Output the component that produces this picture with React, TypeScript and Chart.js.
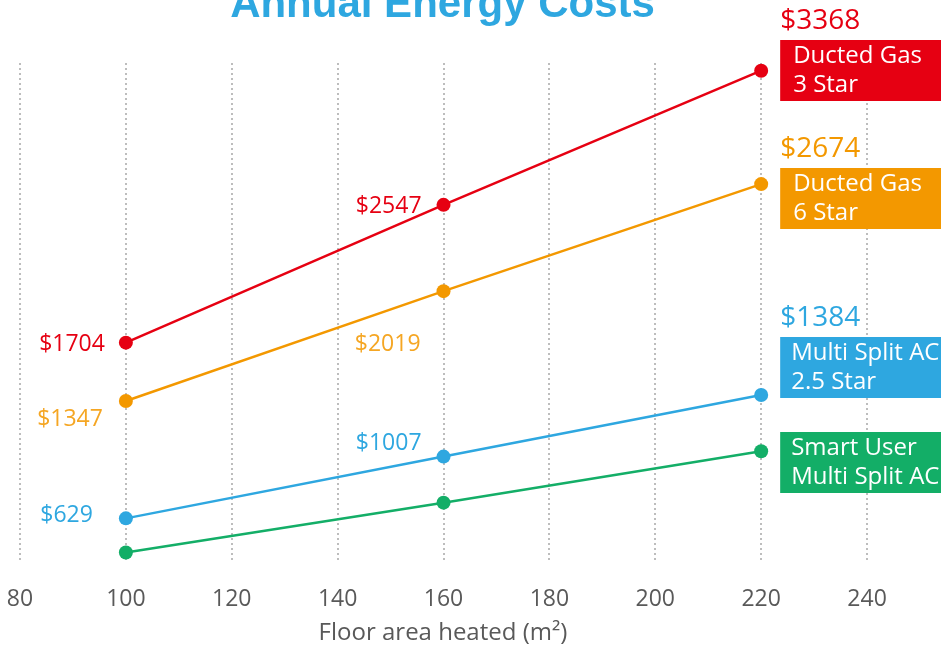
import React, { useEffect, useRef } from "react";
import { Chart, registerables } from "chart.js";

Chart.register(...registerables);

// ---- data ----
const floorAreas = [100, 160, 220];
const gas3Star = [1704, 2547, 3368];
const gas6Star = [1347, 2019, 2674];
const multiSplit25 = [629, 1007, 1384];
const smartUserMultiSplit = [420, 725, 1040];

const seriesLabels = [
  ["Ducted Gas", "3 Star"],
  ["Ducted Gas", "6 Star"],
  ["Multi Split AC", "2.5 Star"],
  ["Smart User", "Multi Split AC"],
];
const seriesValues = [gas3Star, gas6Star, multiSplit25, smartUserMultiSplit];
const lineColors = ["#E60012", "#F39800", "#2EA7E0", "#13AE67"];
const labelColors = ["#E60012", "#F5A623", "#2EA7E0", "#13AE67"];
const endLabelColors = ["#E60012", "#F39800", "#2EA7E0", "#13AE67"];
const showPointLabels = [true, true, true, false];

const xMin = 80;
const xMax = 250;
const xStep = 20;
const yMin = 362;
const yMax = 3415;

const titleText = "Annual Energy Costs";
const xAxisTitle = "Floor area heated (m²)";

const FONT = "'Open Sans', 'Noto Sans', sans-serif";

// label offsets relative to the point (right-aligned text): [dx, dy]
const pointLabelOffsets = [
  [[-21, 2], [-22, 2]],
  [[-23, 18], [-23, 53]],
  [[-33, -3], [-22, -13]],
];
// legend box tops (pixels)
const boxTops = [40, 168, 337, 432];

const overlayPlugin = {
  id: "overlay",
  afterDatasetsDraw(chart: any) {
    const ctx = chart.ctx;
    ctx.save();
    // title
    ctx.font = `bold 42px 'Liberation Sans', Arial, sans-serif`;
    ctx.fillStyle = "#2EA7E0";
    ctx.textAlign = "center";
    ctx.textBaseline = "alphabetic";
    ctx.fillText(titleText, 442.5, 17);

    // x axis title
    ctx.font = `24px ${FONT}`;
    ctx.fillStyle = "#595959";
    ctx.textBaseline = "middle";
    ctx.fillText(xAxisTitle, 443, 633);

    // point labels
    seriesValues.forEach((vals, si) => {
      const meta = chart.getDatasetMeta(si);
      if (showPointLabels[si]) {
        ctx.font = `23px ${FONT}`;
        ctx.fillStyle = labelColors[si];
        ctx.textAlign = "right";
        ctx.textBaseline = "middle";
        for (let j = 0; j < vals.length - 1; j++) {
          const pt = meta.data[j];
          const off = pointLabelOffsets[si][j];
          ctx.fillText("$" + vals[j], pt.x + off[0], pt.y + off[1]);
        }
      }
      // end label box
      const last = meta.data[vals.length - 1];
      const bx = last.x + 19;
      const by = boxTops[si];
      const bw = chart.width - bx;
      const bh = 61;
      ctx.fillStyle = lineColors[si];
      ctx.fillRect(bx, by, bw, bh);
      ctx.fillStyle = "#ffffff";
      ctx.font = `24px ${FONT}`;
      ctx.textAlign = "left";
      ctx.textBaseline = "middle";
      const tx = si >= 2 ? bx + 11 : bx + 13;
      ctx.fillText(seriesLabels[si][0], tx, by + 16);
      ctx.fillText(seriesLabels[si][1], tx, by + 45);
      if (showPointLabels[si]) {
        ctx.fillStyle = endLabelColors[si];
        ctx.font = `28px ${FONT}`;
        ctx.fillText("$" + vals[vals.length - 1], bx, by - 19);
      }
    });
    ctx.restore();
  },
};

export default function App() {
  const ref = useRef<HTMLCanvasElement>(null);
  useEffect(() => {
    document.body.style.margin = "0";
    const canvas = ref.current!;
    const chart = new Chart(canvas, {
      type: "line",
      data: {
        datasets: seriesValues.map((vals, i) => ({
          label: seriesLabels[i].join(" "),
          data: floorAreas.map((x, j) => ({ x, y: vals[j] })),
          borderColor: lineColors[i],
          backgroundColor: lineColors[i],
          pointBackgroundColor: lineColors[i],
          pointBorderWidth: 0,
          pointRadius: 7,
          borderWidth: 2.5,
          fill: false,
          tension: 0,
        })),
      },
      options: {
        responsive: false,
        animation: false,
        devicePixelRatio: 1,
        layout: { padding: { top: 63, left: 20, right: 21, bottom: 0 } },
        plugins: {
          legend: { display: false },
          tooltip: { enabled: false },
          title: { display: false },
        },
        scales: {
          x: {
            type: "linear",
            min: xMin,
            max: xMax,
            afterFit(scale: any) {
              scale.paddingLeft = 0;
              scale.paddingRight = 0;
              scale.height = 86;
            },
            ticks: {
              stepSize: xStep,
              includeBounds: false,
              maxRotation: 0,
              minRotation: 0,
              autoSkip: false,
              padding: 24,
              color: "#595959",
              font: { family: FONT, size: 23 },
            },
            grid: {
              drawTicks: false,
              color: "#bdbdbd",
              lineWidth: 2,
            },
            border: { display: false, dash: [2, 3] },
            title: { display: false },
          },
          y: {
            display: false,
            min: yMin,
            max: yMax,
          },
        },
      },
      plugins: [overlayPlugin],
    });
    return () => chart.destroy();
  }, []);
  return <canvas ref={ref} width={941} height={648} style={{ display: "block" }} />;
}
